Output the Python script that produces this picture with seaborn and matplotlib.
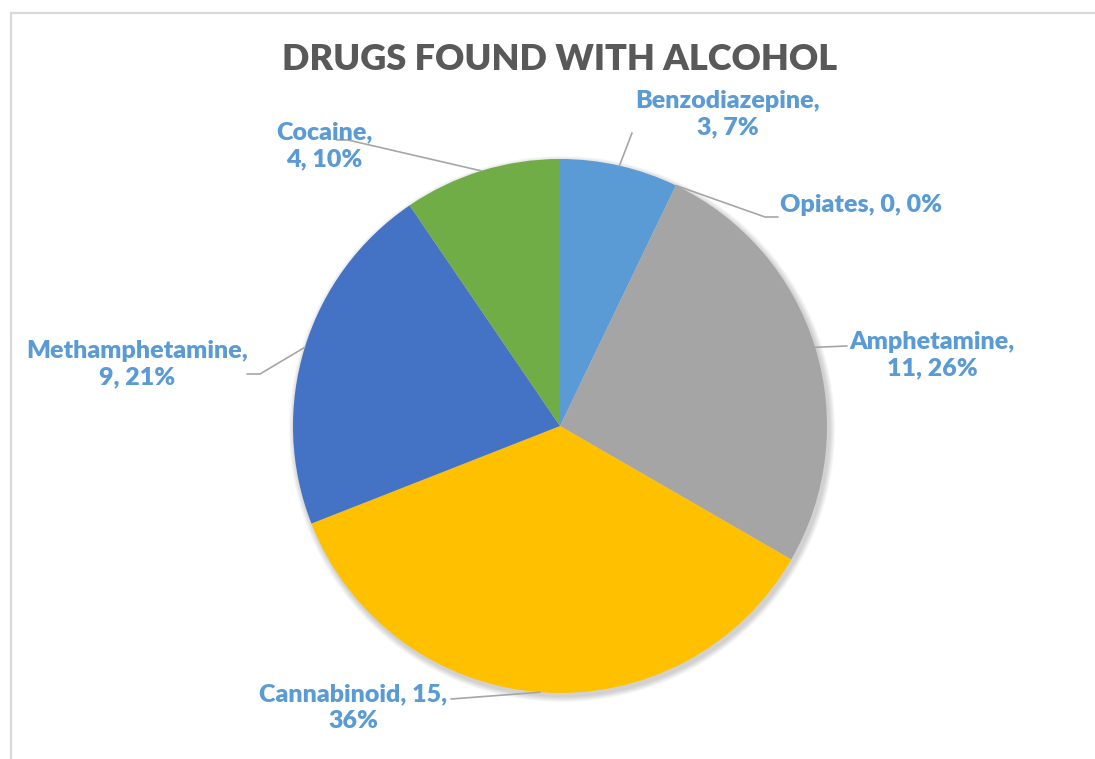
import numpy as np
import seaborn as sns
import matplotlib.pyplot as plt
from matplotlib.patches import Rectangle, Circle

# data
drugs = ['Benzodiazepine', 'Opiates', 'Amphetamine', 'Cannabinoid', 'Methamphetamine', 'Cocaine']
counts = [3, 0, 11, 15, 9, 4]
pcts = ['7%', '0%', '26%', '36%', '21%', '10%']
colors = ['#5B9BD5', '#ED7D31', '#A5A5A5', '#FFC000', '#4472C4', '#70AD47']

sns.set_style('white')
plt.rcParams['font.family'] = ['Lato', 'DejaVu Sans']

W, H = 1095, 759
fig = plt.figure(figsize=(W / 100, H / 100), dpi=100)
ax = fig.add_axes([0, 0, 1, 1])

# pixel helper (y measured from the top of the picture)
def px(x, y):
    return x, H - y

cx, cy = px(560, 426)
r = 267

# light chart border (top and left visible)
ax.add_patch(Rectangle(px(11, 800), 1200, 800 - 13, fill=False,
                       edgecolor='#D9D9D9', lw=1.6, zorder=0))

# soft shadow under the pie
for k in range(6):
    ax.add_patch(Circle((cx + 2, cy - 3), r + 1 + k, color='black',
                        alpha=0.03, lw=0, zorder=1))

wedges, _ = ax.pie(counts, colors=colors, startangle=90, counterclock=False,
                   center=(cx, cy), radius=r, frame=True,
                   wedgeprops=dict(linewidth=0))
for w in wedges:
    w.set_zorder(2)
ax.set_xlim(0, W)
ax.set_ylim(0, H)
ax.set_aspect('equal')
ax.axis('off')

ax.text(*px(560, 60), 'DRUGS FOUND WITH ALCOHOL', ha='center', va='center',
        fontsize=26, fontweight='heavy', color='#595959')

# label layout: text centre, leader path (elbow points), alignment
layout = {
    'Benzodiazepine': dict(pos=(728, 114), path=[(632, 133)], ha='center', two=True),
    'Opiates': dict(pos=(780, 205), path=[(765, 217), (778, 217)], ha='left', two=False),
    'Amphetamine': dict(pos=(932, 355), path=[(847, 346)], ha='center', two=True),
    'Cannabinoid': dict(pos=(353, 708), path=[(451, 699)], ha='center', two=True),
    'Methamphetamine': dict(pos=(137, 364), path=[(260, 374), (247, 374)], ha='center', two=True),
    'Cocaine': dict(pos=(324, 146), path=[(348, 140), (337, 140)], ha='center', two=True),
}

total = sum(counts)
cum = np.cumsum([0] + counts)
label_color = '#5B9BD5'
for i, name in enumerate(drugs):
    mid = (cum[i] + counts[i] / 2) / total * 2 * np.pi
    sx, sy = cx + r * np.sin(mid), cy + r * np.cos(mid)
    lay = layout[name]
    xs = [sx] + [px(*p)[0] for p in lay['path']]
    ys = [sy] + [px(*p)[1] for p in lay['path']]
    ax.plot(xs, ys, color='#A6A6A6', lw=1.2, zorder=3)
    if name == 'Cannabinoid':
        txt = f'{name}, {counts[i]},\n{pcts[i]}'
    elif lay['two']:
        txt = f'{name},\n{counts[i]}, {pcts[i]}'
    else:
        txt = f'{name}, {counts[i]}, {pcts[i]}'
    ax.text(*px(*lay['pos']), txt, ha=lay['ha'], va='center', multialignment='center',
            fontsize=18, fontweight='heavy', color=label_color, linespacing=1.25, zorder=4)

plt.savefig('out.png', dpi=100)
